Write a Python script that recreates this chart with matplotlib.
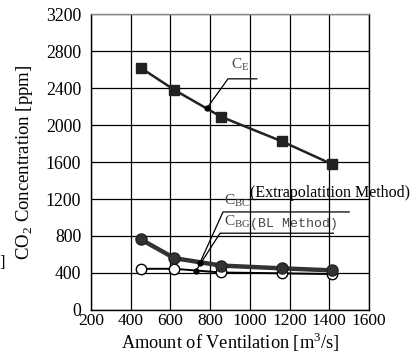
import matplotlib
matplotlib.use("Agg")
import matplotlib.pyplot as plt

# Amount of ventilation [m3/s]
vent = [450, 620, 855, 1160, 1415]
# CO2 concentrations [ppm]
c_e = [2620, 2380, 2090, 1825, 1575]
c_bc = [765, 560, 480, 450, 428]
c_bg = [445, 445, 405, 396, 388]

# small marked points where the labels point
ce_pt = (783, 2180)
bc_pt = (749, 511)
bg_pt = (729, 425)

xticks = [200, 400, 600, 800, 1000, 1200, 1400, 1600]
yticks = [0, 400, 800, 1200, 1600, 2000, 2400, 2800, 3200]

serif = "Liberation Serif"
plt.rcParams["font.family"] = serif

fig = plt.figure(figsize=(4.17, 3.53), dpi=100)
ax = fig.add_axes([0.218, 0.122, 0.667, 0.838])

ax.set_xlim(200, 1600)
ax.set_ylim(0, 3200)
ax.set_xticks(xticks)
ax.set_yticks(yticks)
ax.grid(True, color="black", lw=0.9)
ax.set_axisbelow(True)
ax.tick_params(axis="x", length=0, labelsize=12.5, pad=2)
ax.tick_params(axis="y", length=0, labelsize=12.8, pad=7)
for lbl in ax.get_yticklabels():
    lbl.set_va("center_baseline")
for s in ax.spines.values():
    s.set_color("black")
    s.set_linewidth(1.0)
ax.spines["top"].set_color("#888888")

ax.plot(vent, c_e, color="#222222", lw=1.8, marker="s", ms=7.5,
        mfc="#222222", mec="#222222", zorder=3)
ax.plot(vent, c_bg, color="black", lw=1.4, marker="o", ms=7.5,
        mfc="white", mec="black", zorder=3)
ax.plot(vent, c_bc, color="#333333", lw=3.2, marker="o", ms=8,
        mfc="#333333", mec="#222222", zorder=4)

for p in (ce_pt, bc_pt, bg_pt):
    ax.plot(*p, marker="o", ms=3.5, color="black", zorder=5)

# leader lines
ax.plot([ce_pt[0], 890, 1035], [ce_pt[1], 2500, 2500], color="black", lw=0.9, zorder=5)
ax.plot([bc_pt[0], 865, 1500], [bc_pt[1], 1060, 1060], color="black", lw=0.9, zorder=5)
ax.plot([bg_pt[0], 850, 1420], [bg_pt[1], 830, 830], color="black", lw=0.9, zorder=5)

ax.text(905, 2560, r"C$_\mathregular{E}$", fontsize=11, color="#444444",
        va="bottom", ha="left", zorder=6)
ax.text(870, 1090, r"C$_\mathregular{BC}$", fontsize=11, color="#444444",
        va="bottom", ha="left", zorder=6)
ax.text(1000, 1180, "(Extrapolatition Method)", fontsize=11.5,
        va="bottom", ha="left", zorder=6)
ax.text(870, 860, r"C$_\mathregular{BG}$", fontsize=11, color="#444444",
        va="bottom", ha="left", zorder=6)
ax.text(1000, 860, "(BL Method)", fontsize=9.5, color="#444444",
        family="Liberation Mono", va="bottom", ha="left", zorder=6)

ax.set_xlabel(r"Amount of Ventilation [m$^\mathregular{3}$/s]", fontsize=13.2, va="center")
ax.xaxis.set_label_coords(0.5, -0.111)
ax.set_ylabel(r"CO$_\mathregular{2}$ Concentration [ppm]", fontsize=13.5, va="center")
ax.yaxis.set_label_coords(-0.237, 0.5)

fig.text(-0.002, 0.255, "]", fontsize=12, ha="left", va="center")

fig.savefig("out.png", dpi=100)
